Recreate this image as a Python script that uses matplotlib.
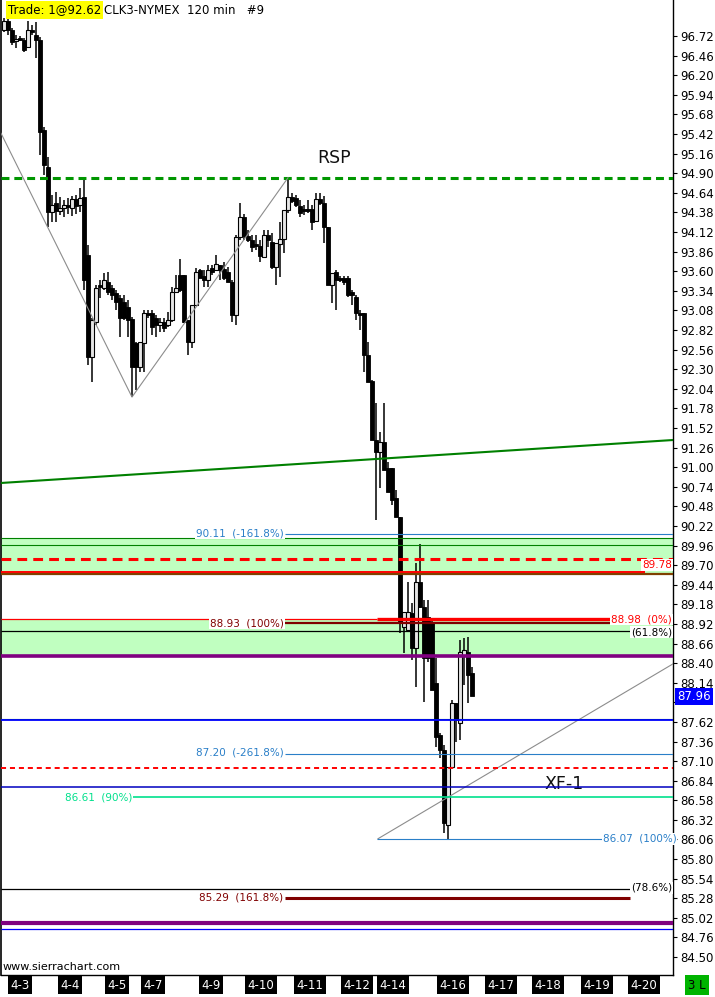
import matplotlib.pyplot as plt
import matplotlib.transforms as mtransforms
import numpy as np

# 120 min candles, CLK3
opens = [96.80, 96.92, 96.80, 96.65, 96.68, 96.67, 96.57, 96.80, 96.73, 96.67,
         95.47, 94.98, 94.39, 94.50, 94.40, 94.44, 94.48, 94.44, 94.56, 94.48,
         94.58, 93.81, 92.46, 92.93, 93.42, 93.38, 93.46, 93.38, 93.31, 93.24,
         93.19, 93.12, 92.97, 92.65, 92.33, 92.65, 93.05, 93.05, 92.98, 92.89,
         92.93, 92.89, 92.95, 93.32, 93.55, 93.55, 92.95, 92.66, 93.15, 93.62,
         93.54, 93.48, 93.64, 93.62, 93.68, 93.63, 93.59, 93.46, 93.02, 94.05,
         94.32, 94.07, 94.01, 93.96, 93.93, 93.79, 94.08, 93.99, 93.66, 93.96,
         94.03, 94.41, 94.58, 94.57, 94.46, 94.43, 94.43, 94.43, 94.27, 94.56,
         94.50, 94.19, 93.42, 93.59, 93.51, 93.51, 93.51, 93.32, 93.26, 93.05,
         93.05, 92.49, 92.14, 91.36, 91.20, 91.33, 90.99, 90.99, 90.59, 90.34,
         88.88, 88.84, 89.06, 88.60, 89.48, 89.14, 89.01, 88.93, 88.14, 87.45,
         87.25, 86.25, 87.02, 87.87, 87.61, 88.51, 88.55, 88.27]
highs = [96.96, 96.97, 96.83, 96.73, 96.72, 96.69, 96.92, 96.87, 96.91, 96.71,
         95.51, 95.11, 94.61, 94.65, 94.58, 94.54, 94.57, 94.60, 94.61, 94.70,
         94.84, 93.95, 92.98, 93.42, 93.48, 93.58, 93.59, 93.42, 93.35, 93.28,
         93.28, 93.22, 92.99, 92.66, 92.66, 93.08, 93.08, 93.08, 93.02, 92.98,
         92.98, 93.06, 93.39, 93.55, 93.76, 93.55, 92.95, 93.15, 93.64, 93.63,
         93.62, 93.68, 93.68, 93.81, 93.68, 93.72, 93.66, 93.48, 94.08, 94.50,
         94.36, 94.15, 94.08, 94.08, 94.01, 94.15, 94.15, 94.11, 93.97, 94.25,
         94.41, 94.84, 94.64, 94.61, 94.54, 94.48, 94.54, 94.48, 94.64, 94.64,
         94.60, 94.19, 93.58, 93.62, 93.54, 93.54, 93.54, 93.35, 93.28, 93.08,
         93.05, 92.66, 92.16, 91.85, 91.47, 91.85, 91.07, 90.99, 90.70, 90.34,
         89.08, 89.48, 89.20, 89.73, 89.98, 89.24, 89.24, 88.97, 88.47, 87.47,
         87.31, 87.02, 87.91, 87.87, 88.71, 88.73, 88.75, 88.35]
lows = [96.77, 96.73, 96.60, 96.56, 96.65, 96.51, 96.56, 96.73, 96.43, 95.14,
        94.88, 94.19, 94.25, 94.25, 94.35, 94.32, 94.36, 94.33, 94.36, 94.39,
        93.35, 92.36, 92.13, 92.89, 93.24, 93.35, 93.28, 93.22, 93.08, 92.73,
        92.95, 92.73, 91.93, 92.02, 92.26, 92.26, 92.98, 92.75, 92.73, 92.79,
        92.79, 92.86, 92.93, 93.31, 93.32, 92.91, 92.49, 92.58, 93.14, 93.51,
        93.39, 93.39, 93.55, 93.62, 93.48, 93.48, 93.46, 92.93, 92.89, 94.01,
        94.01, 93.99, 93.85, 93.88, 93.72, 93.77, 93.92, 93.63, 93.42, 93.52,
        93.84, 94.37, 94.50, 94.45, 94.32, 94.35, 94.37, 94.15, 94.27, 94.48,
        93.97, 93.42, 93.18, 93.08, 93.46, 93.42, 93.26, 93.15, 92.95, 92.82,
        92.26, 92.13, 91.36, 90.30, 90.72, 90.96, 90.67, 90.50, 90.34, 88.80,
        88.53, 88.84, 88.44, 88.08, 89.13, 87.88, 88.41, 88.04, 87.29, 87.14,
        86.15, 86.07, 87.02, 87.35, 87.38, 88.11, 87.87, 87.98]
closes = [96.92, 96.80, 96.64, 96.68, 96.67, 96.53, 96.80, 96.77, 96.67, 95.45,
          95.01, 94.39, 94.48, 94.40, 94.44, 94.48, 94.45, 94.56, 94.46, 94.57,
          93.48, 92.46, 92.95, 93.38, 93.39, 93.48, 93.32, 93.28, 93.19, 92.98,
          92.98, 92.95, 92.33, 92.33, 92.66, 93.05, 93.02, 92.86, 92.89, 92.93,
          92.85, 92.95, 93.32, 93.38, 93.35, 92.93, 92.66, 93.15, 93.59, 93.51,
          93.48, 93.62, 93.59, 93.70, 93.62, 93.51, 93.46, 93.02, 94.05, 94.32,
          94.07, 94.01, 93.92, 93.93, 93.80, 94.08, 94.01, 93.66, 93.97, 94.03,
          94.41, 94.58, 94.53, 94.48, 94.37, 94.40, 94.40, 94.25, 94.56, 94.50,
          94.19, 93.42, 93.58, 93.48, 93.48, 93.46, 93.28, 93.28, 93.05, 93.02,
          92.49, 92.13, 91.36, 91.20, 91.33, 90.96, 90.67, 90.56, 90.34, 88.93,
          89.08, 89.08, 88.60, 89.48, 89.14, 88.47, 88.47, 88.04, 87.42, 87.25,
          86.28, 87.02, 87.87, 87.64, 88.55, 88.57, 88.24, 87.96]

date_labels = ['4-3', '4-4', '4-5', '4-7', '4-9', '4-10', '4-11', '4-12', '4-14',
               '4-16', '4-17', '4-18', '4-19', '4-20']
date_pos = [4, 16.5, 28.25, 37.25, 51.75, 64.25, 76.5, 88.25, 97.25, 112.25,
            124.25, 136, 148.25, 160]

price_ticks = [84.50, 84.76, 85.02, 85.28, 85.54, 85.80, 86.06, 86.32, 86.58, 86.84,
               87.10, 87.36, 87.62, 87.88, 88.14, 88.40, 88.66, 88.92, 89.18, 89.44,
               89.70, 89.96, 90.22, 90.48, 90.74, 91.00, 91.26, 91.52, 91.78, 92.04,
               92.30, 92.56, 92.82, 93.08, 93.34, 93.60, 93.86, 94.12, 94.38, 94.64,
               94.90, 95.16, 95.42, 95.68, 95.94, 96.20, 96.46, 96.72]

last_price = 87.96
rsp_level = 94.84
zigzag_x = [-0.75, 32, 71]
zigzag_y = [95.43, 91.93, 94.84]
trend_x = [-0.75, 167.25]
trend_y = [90.79, 91.36]
xf_x = [93.5, 167.25]
xf_y = [86.07, 88.39]

W, H = 715, 997
fig = plt.figure(figsize=(W / 100, H / 100), dpi=100)
ax = fig.add_axes([1 / W, 22 / H, 672 / W, 975 / H])
x0, x1 = -0.75, 167.25
ax.set_xlim(x0, x1)
ax.set_ylim(84.262, 97.198)

# zones
ax.axhspan(89.59, 90.06, color='#c0ffc0', lw=0, zorder=1)
ax.axhspan(88.50, 88.97, color='#c0ffc0', lw=0, zorder=1)

# candles
idx = np.arange(len(opens))
o = np.array(opens); c = np.array(closes)
ax.vlines(idx, lows, highs, color='black', lw=1.1, zorder=5)
up = c >= o
bot = np.minimum(o, c)
hgt = np.maximum(np.abs(c - o), 0.025)
ax.bar(idx[up], hgt[up], bottom=bot[up], width=0.8, color='#e6e6e6',
       edgecolor='black', lw=0.8, zorder=6)
ax.bar(idx[~up], hgt[~up], bottom=bot[~up], width=0.8, color='black',
       edgecolor='black', lw=0.6, zorder=6)

def hline(y, xa, xb, color, lw, ls='-', dashes=None, z=7):
    ln, = ax.plot([xa, xb], [y, y], color=color, lw=lw, ls=ls, zorder=z,
                  solid_capstyle='butt')
    if dashes:
        ln.set_dashes(dashes)

def label(x, y, s, color, ha='right'):
    ax.text(x, y, s, color=color, fontsize=7.5, ha=ha, va='center', zorder=9,
            bbox=dict(fc='white', ec='none', pad=0.6))

# RSP
hline(rsp_level, x0, x1, '#009600', 2.2, dashes=(2.6, 1.6))
ax.text(82.5, 95.10, 'RSP', fontsize=12.5, ha='center', va='center', color='#111111')

# green trend line and gray swing lines
ax.plot(trend_x, trend_y, color='#008000', lw=1.5, zorder=7)
ax.plot(zigzag_x, zigzag_y, color='#8c8c8c', lw=0.8, zorder=7)
ax.plot(xf_x, xf_y, color='#8c8c8c', lw=0.8, zorder=7)
ax.text(140, 86.80, 'XF-1', fontsize=12.5, ha='center', va='center', color='#111111')

# upper zone
hline(90.11, 70.25, x1, '#2a7fc8', 0.8)
label(70, 90.12, '90.11  (-161.8%)', '#2a7fc8')
hline(90.06, x0, x1, '#008000', 0.8)
hline(89.97, x0, x1, '#008000', 0.8)
hline(89.78, x0, x1, '#ff0000', 2.2, dashes=(3.2, 2.0))
hline(89.58, x0, x1, '#804000', 1.6)
hline(89.61, x0, 160.25, '#ff0000', 1.4)
label(167, 89.70, '89.78', '#ff0000')

# lower zone
hline(88.98, x0, 93.25, '#ff0000', 0.9)
hline(88.98, 93.25, 153.25, '#ff0000', 2.4)
label(167, 88.98, '88.98  (0%)', '#ff0000')
hline(88.93, 70.25, 152.75, '#800000', 1.6)
label(70, 88.93, '88.93  (100%)', '#800000')
hline(88.82, x0, 156.5, 'black', 0.9)
label(167, 88.81, '(61.8%)', 'black')
hline(88.50, x0, x1, '#800080', 2.6)

hline(87.66, x0, x1, '#008000', 0.8)
hline(87.64, x0, x1, '#0000ff', 1.3)
hline(87.20, 70.25, x1, '#2a7fc8', 0.8)
label(70, 87.21, '87.20  (-261.8%)', '#2a7fc8')
hline(87.01, x0, x1, '#ff0000', 1.4, dashes=(2.6, 2.0))
hline(86.76, x0, x1, '#0000c0', 1.1)
hline(86.62, 32.25, x1, '#00e08c', 1.2)
label(32, 86.62, '86.61  (90%)', '#00e08c')
hline(86.07, 93.25, 149.5, '#2a7fc8', 0.8)
label(149.7, 86.07, '86.07  (100%)', '#2a7fc8', ha='left')

hline(85.40, x0, 157, 'black', 0.9)
label(167, 85.42, '(78.6%)', 'black')
hline(85.29, 70.25, 156.5, '#800000', 2.2)
label(69.75, 85.29, '85.29  (161.8%)', '#800000')
hline(84.95, x0, x1, '#800080', 3.0)
hline(84.87, x0, x1, '#0000ff', 0.9)

# axes styling
for s in ['top', 'bottom']:
    ax.spines[s].set_visible(False)
ax.spines['left'].set_linewidth(1.2)
ax.spines['right'].set_linewidth(1.0)
ax.plot([x0, x1], [84.262, 84.262], color='black', lw=1.0, clip_on=False, zorder=8)
ax.yaxis.tick_right()
ax.set_yticks(price_ticks)
# the last-price box hides the tick label under it
ax.set_yticklabels(['' if abs(v - last_price) < 0.13 else f'{v:.2f}' for v in price_ticks])
ax.tick_params(axis='y', length=3, width=0.8, pad=2, labelsize=8.5, colors='black')
ax.set_xticks(date_pos)
ax.set_xticklabels([])
ax.tick_params(axis='x', length=4, width=0.8, direction='out')

xt = ax.get_xaxis_transform()
for p, s in zip(date_pos, date_labels):
    ax.text(p, -0.0105, s, transform=xt, ha='center', va='center', color='white',
            fontsize=8.5, clip_on=False,
            bbox=dict(fc='black', ec='none', pad=1.6))

yt = mtransforms.blended_transform_factory(ax.transAxes, ax.transData)
ax.text(1.006, last_price, f'{last_price:.2f}', transform=yt, ha='left', va='center',
        color='white', fontsize=8.5, clip_on=False, zorder=20,
        bbox=dict(fc='#0000ff', ec='none', pad=1.6))

fig.text(697 / W, 1 - 985 / H, '3 L', ha='center', va='center', fontsize=8.5,
         color='black', bbox=dict(fc='#00b400', ec='none', pad=2.5))
fig.text(8 / W, 1 - 10 / H, 'Trade: 1@92.62', ha='left', va='center', fontsize=8.5,
         color='black', bbox=dict(fc='#ffff00', ec='none', pad=1.5))
fig.text(104 / W, 1 - 10 / H, 'CLK3-NYMEX  120 min   #9', ha='left', va='center',
         fontsize=8.5, color='black')
fig.text(3 / W, 1 - 967 / H, 'www.sierrachart.com', ha='left', va='center',
         fontsize=8, color='black')

fig.savefig('out.png', dpi=100)
